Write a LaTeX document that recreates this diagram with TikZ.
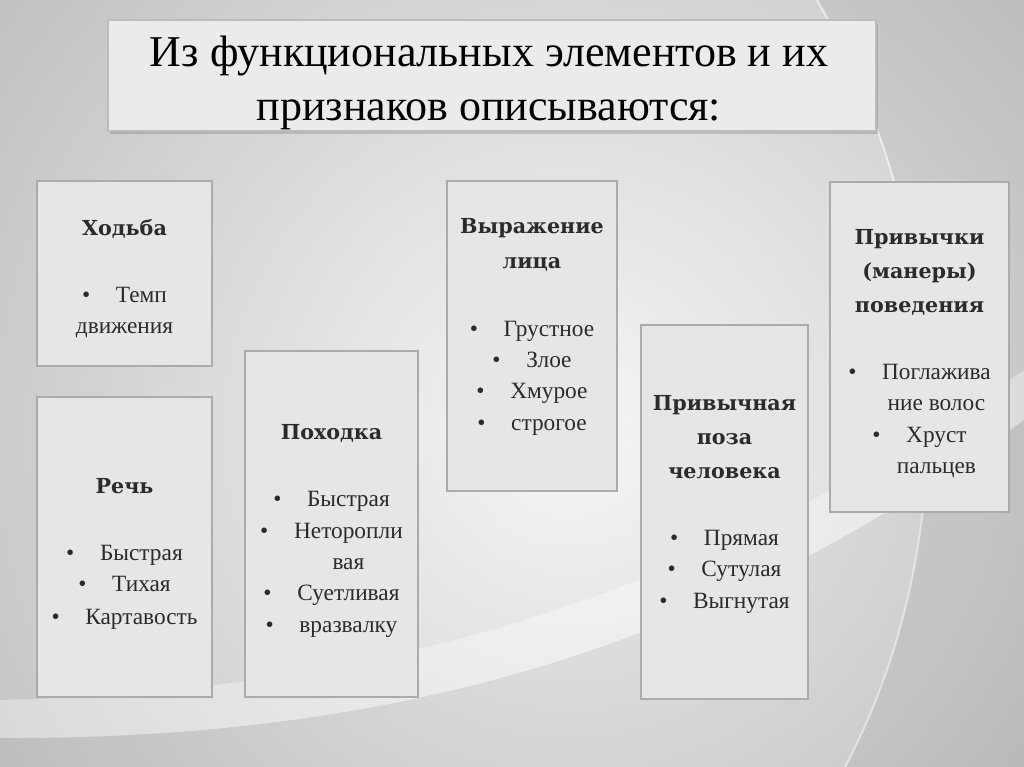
\documentclass[tikz,border=0pt]{standalone}
\usepackage{fontspec}
\setmainfont{Liberation Serif}
\newfontfamily\headfont{DejaVu Serif}
\usetikzlibrary{positioning}

\definecolor{bggray}{HTML}{A6A6A6}
\definecolor{bglight}{HTML}{F6F6F6}
\definecolor{boxfill}{HTML}{E6E6E6}
\definecolor{boxline}{HTML}{ABABAB}
\definecolor{inkgray}{HTML}{2B2B2B}

\newcommand{\px}{0.75pt}
\newcommand{\bul}{\textbullet\hspace{1.1em}}
\newcommand{\nobul}{\phantom{\textbullet\hspace{1.1em}}}
\newcommand{\hd}[1]{{\headfont\bfseries\fontsize{15.5}{23.5}\selectfont #1}}

\tikzset{
  card/.style={draw=boxline, line width=1.1pt, fill=boxfill, inner sep=0pt},
  cardtext/.style={align=center, text=inkgray, inner sep=0pt,
    font=\fontsize{17.5}{23.5}\selectfont},
  titlecard/.style={draw=boxline!80, line width=0.8pt, fill=boxfill!80!white,
    inner sep=0pt, minimum width=768*\px, minimum height=111*\px},
}

\begin{document}
\begin{tikzpicture}[x=0.75pt, y=-0.75pt]
    \useasboundingbox (0,0) rectangle (1024,767);

% background
    \fill[bggray] (0,0) rectangle (1024,767);
\begin{scope}
    \clip (0,0) rectangle (1024,767);
    \shade[inner color=bglight, outer color=bggray] (570,430) circle (1080);
    % right swoosh
    \fill[black, opacity=0.05] (817,0) .. controls (960,250) and (960,550) .. (845,767)
        -- (1024,767) -- (1024,0) -- cycle;
    \draw[white, opacity=0.6, line width=1.5] (817,0) .. controls (960,250) and (960,550) .. (845,767);
    % lower swoosh
    \fill[white, opacity=0.35] (0,700) .. controls (450,690) and (750,560) .. (1024,370)
        -- (1024,420) .. controls (750,620) and (450,740) .. (0,738) -- cycle;
    \fill[black, opacity=0.04] (0,738) .. controls (450,740) and (750,620) .. (1024,420)
        -- (1024,767) -- (0,767) -- cycle;
\end{scope}

% title
    \fill[black, opacity=0.15] (110,24) rectangle (878,134);
    \node[titlecard] (title) at (492,75.5) {};
    \node[align=center, font=\fontsize{33}{40}\selectfont] (title-txt) at (489,83)
        {Из функциональных элементов и их\\признаков описываются:};

% cards
    \node[card, minimum width=175*\px, minimum height=185*\px] (hodba) at (124.5,273.5) {};
    \node[card, minimum width=175*\px, minimum height=300*\px] (rech) at (124.5,547) {};
    \node[card, minimum width=173*\px, minimum height=346*\px] (pohodka) at (331.5,524) {};
    \node[card, minimum width=170*\px, minimum height=310*\px] (lico) at (532,336) {};
    \node[card, minimum width=167*\px, minimum height=374*\px] (poza) at (724.5,512) {};
    \node[card, minimum width=179*\px, minimum height=330*\px] (manery) at (919.5,347) {};

% card texts
    \node[cardtext] (hodba-txt) at ([yshift=-4]hodba.center)
        {\hd{Ходьба}\\[27pt]
         \bul Темп\\
         движения};
    \node[cardtext] (rech-txt) at ([yshift=-5]rech.center)
        {\hd{Речь}\\[27pt]
         \bul Быстрая\\
         \bul Тихая\\[1pt]
         \bul Картавость};
    \node[cardtext] (pohodka-txt) at ([yshift=-5]pohodka.center)
        {\hd{Походка}\\[27pt]
         \bul Быстрая\\
         \bul Неторопли\\
         \nobul вая\\
         \bul Суетливая\\
         \bul вразвалку};
    \node[cardtext] (lico-txt) at ([yshift=7]lico.center)
        {\hd{Выражение}\\[3pt]
         \hd{лица}\\[27pt]
         \bul Грустное\\
         \bul Злое\\
         \bul Хмурое\\
         \bul строгое};
    \node[cardtext] (poza-txt) at ([yshift=6]poza.center)
        {\hd{Привычная}\\[2pt]
         \hd{поза}\\[2pt]
         \hd{человека}\\[27pt]
         \bul Прямая\\
         \bul Сутулая\\
         \bul Выгнутая};
    \node[cardtext] (manery-txt) at ([yshift=-5]manery.center)
        {\hd{Привычки}\\[2pt]
         \hd{(манеры)}\\[2pt]
         \hd{поведения}\\[27pt]
         \bul Поглажива\\
         \nobul ние волос\\
         \bul Хруст\\
         \nobul пальцев};

\end{tikzpicture}
\end{document}
